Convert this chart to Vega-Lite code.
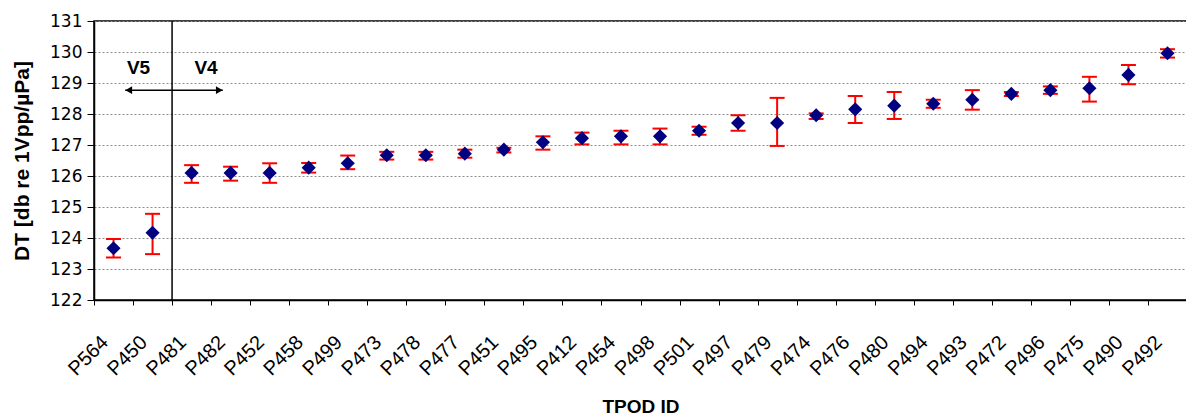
{
  "$schema": "https://vega.github.io/schema/vega-lite/v6.json",
  "width": 1093,
  "height": 279,
  "autosize": "none",
  "padding": {"left": 94, "top": 21, "right": 0, "bottom": 119},
  "config": {
    "view": {"stroke": "black", "strokeWidth": 1.5},
    "font": "Liberation Sans",
    "axis": {"labelColor": "black", "titleColor": "black", "domainColor": "black", "tickColor": "black", "domainWidth": 1.5},
    "axisY": {
      "titleFontSize": 21, "titleFontWeight": "bold", "titlePadding": 17,
      "labelFont": "DejaVu Sans", "labelFontSize": 17, "labelPadding": 5, "tickSize": 7, "labelOverlap": false,
      "grid": true, "gridColor": "#8c8c8c", "gridDash": [2, 2], "gridWidth": 1
    }
  },
  "layer": [
    {
      "data": {"values": [
        {"id": "P564", "dt": 123.67, "lo": 123.37, "hi": 123.97},
        {"id": "P450", "dt": 124.17, "lo": 123.48, "hi": 124.78},
        {"id": "P481", "dt": 126.1, "lo": 125.78, "hi": 126.35},
        {"id": "P482", "dt": 126.1, "lo": 125.85, "hi": 126.3},
        {"id": "P452", "dt": 126.1, "lo": 125.78, "hi": 126.41},
        {"id": "P458", "dt": 126.27, "lo": 126.11, "hi": 126.42},
        {"id": "P499", "dt": 126.41, "lo": 126.22, "hi": 126.66},
        {"id": "P473", "dt": 126.67, "lo": 126.53, "hi": 126.78},
        {"id": "P478", "dt": 126.67, "lo": 126.53, "hi": 126.78},
        {"id": "P477", "dt": 126.72, "lo": 126.59, "hi": 126.85},
        {"id": "P451", "dt": 126.85, "lo": 126.76, "hi": 126.91},
        {"id": "P495", "dt": 127.09, "lo": 126.85, "hi": 127.28},
        {"id": "P412", "dt": 127.22, "lo": 127.02, "hi": 127.4},
        {"id": "P454", "dt": 127.28, "lo": 127.02, "hi": 127.46},
        {"id": "P498", "dt": 127.28, "lo": 127.02, "hi": 127.53},
        {"id": "P501", "dt": 127.46, "lo": 127.33, "hi": 127.59},
        {"id": "P497", "dt": 127.71, "lo": 127.46, "hi": 127.96},
        {"id": "P479", "dt": 127.71, "lo": 126.97, "hi": 128.52},
        {"id": "P474", "dt": 127.96, "lo": 127.84, "hi": 128.02},
        {"id": "P476", "dt": 128.15, "lo": 127.71, "hi": 128.58},
        {"id": "P480", "dt": 128.27, "lo": 127.84, "hi": 128.71},
        {"id": "P494", "dt": 128.33, "lo": 128.2, "hi": 128.46},
        {"id": "P493", "dt": 128.46, "lo": 128.14, "hi": 128.77},
        {"id": "P472", "dt": 128.65, "lo": 128.58, "hi": 128.71},
        {"id": "P496", "dt": 128.77, "lo": 128.65, "hi": 128.89},
        {"id": "P475", "dt": 128.83, "lo": 128.4, "hi": 129.2},
        {"id": "P490", "dt": 129.26, "lo": 128.96, "hi": 129.58},
        {"id": "P492", "dt": 129.96, "lo": 129.82, "hi": 130.09}
      ]},
      "encoding": {
        "x": {
          "field": "id", "type": "nominal", "sort": null,
          "scale": {"paddingInner": 0, "paddingOuter": 0},
          "axis": {
            "title": "TPOD ID", "titleFontSize": 19, "titleFontWeight": "bold", "titlePadding": 18,
            "labelAngle": -45, "labelFontSize": 20, "labelAlign": "right", "labelBaseline": "middle",
            "labelPadding": 34, "labelOffset": -9,
            "tickBand": "extent", "tickSize": 5, "grid": false
          }
        }
      },
      "layer": [
        {
          "mark": {"type": "rule", "color": "#ff0000", "strokeWidth": 2},
          "encoding": {
            "y": {"field": "lo", "type": "quantitative", "scale": {"domain": [122, 131], "nice": false, "zero": false}, "axis": {"title": "DT [db re 1Vpp/µPa]", "values": [122, 123, 124, 125, 126, 127, 128, 129, 130, 131]}},
            "y2": {"field": "hi"}
          }
        },
        {
          "mark": {"type": "tick", "color": "#ff0000", "size": 15, "thickness": 2, "opacity": 1},
          "encoding": {"y": {"field": "lo", "type": "quantitative", "scale": {"domain": [122, 131], "nice": false, "zero": false}, "axis": {"title": "DT [db re 1Vpp/µPa]", "values": [122, 123, 124, 125, 126, 127, 128, 129, 130, 131]}}}
        },
        {
          "mark": {"type": "tick", "color": "#ff0000", "size": 15, "thickness": 2, "opacity": 1},
          "encoding": {"y": {"field": "hi", "type": "quantitative", "scale": {"domain": [122, 131], "nice": false, "zero": false}, "axis": {"title": "DT [db re 1Vpp/µPa]", "values": [122, 123, 124, 125, 126, 127, 128, 129, 130, 131]}}}
        },
        {
          "mark": {"type": "point", "shape": "diamond", "filled": true, "color": "#000080", "size": 200, "opacity": 1},
          "encoding": {
            "y": {"field": "dt", "type": "quantitative", "scale": {"domain": [122, 131], "nice": false, "zero": false}, "axis": {"title": "DT [db re 1Vpp/µPa]", "values": [122, 123, 124, 125, 126, 127, 128, 129, 130, 131]}}
          }
        }
      ]
    },
    {
      "data": {"values": [
        {"kind": "divider", "x": 2, "x2": null, "y": null, "label": null},
        {"kind": "arrow", "x": 0.8, "x2": 3.3, "y": 128.77, "label": null},
        {"kind": "headL", "x": 0.89, "x2": null, "y": 128.77, "label": null},
        {"kind": "headR", "x": 3.21, "x2": null, "y": 128.77, "label": null},
        {"kind": "text", "x": 1.14, "x2": null, "y": 129.5, "label": "V5"},
        {"kind": "text", "x": 2.87, "x2": null, "y": 129.5, "label": "V4"}
      ]},
      "layer": [
        {
          "transform": [{"filter": "datum.kind === 'divider'"}],
          "mark": {"type": "rule", "color": "black", "strokeWidth": 1.5},
          "encoding": {
            "x": {"field": "x", "type": "quantitative", "scale": {"domain": [0, 28], "nice": false, "zero": false}, "axis": null}
          }
        },
        {
          "transform": [{"filter": "datum.kind === 'arrow'"}],
          "mark": {"type": "rule", "color": "black", "strokeWidth": 1.5},
          "encoding": {
            "x": {"field": "x", "type": "quantitative", "scale": {"domain": [0, 28], "nice": false, "zero": false}, "axis": null},
            "x2": {"field": "x2"},
            "y": {"field": "y", "type": "quantitative", "scale": {"domain": [122, 131], "nice": false, "zero": false}, "axis": {"title": "DT [db re 1Vpp/µPa]", "values": [122, 123, 124, 125, 126, 127, 128, 129, 130, 131]}}
          }
        },
        {
          "transform": [{"filter": "datum.kind === 'headL'"}],
          "mark": {"type": "point", "shape": "triangle-left", "filled": true, "color": "black", "size": 60, "opacity": 1},
          "encoding": {
            "x": {"field": "x", "type": "quantitative", "scale": {"domain": [0, 28], "nice": false, "zero": false}, "axis": null},
            "y": {"field": "y", "type": "quantitative", "scale": {"domain": [122, 131], "nice": false, "zero": false}, "axis": {"title": "DT [db re 1Vpp/µPa]", "values": [122, 123, 124, 125, 126, 127, 128, 129, 130, 131]}}
          }
        },
        {
          "transform": [{"filter": "datum.kind === 'headR'"}],
          "mark": {"type": "point", "shape": "triangle-right", "filled": true, "color": "black", "size": 60, "opacity": 1},
          "encoding": {
            "x": {"field": "x", "type": "quantitative", "scale": {"domain": [0, 28], "nice": false, "zero": false}, "axis": null},
            "y": {"field": "y", "type": "quantitative", "scale": {"domain": [122, 131], "nice": false, "zero": false}, "axis": {"title": "DT [db re 1Vpp/µPa]", "values": [122, 123, 124, 125, 126, 127, 128, 129, 130, 131]}}
          }
        },
        {
          "transform": [{"filter": "datum.kind === 'text'"}],
          "mark": {"type": "text", "font": "Liberation Sans", "fontSize": 19, "fontWeight": "bold", "color": "black", "align": "center", "baseline": "middle"},
          "encoding": {
            "x": {"field": "x", "type": "quantitative", "scale": {"domain": [0, 28], "nice": false, "zero": false}, "axis": null},
            "y": {"field": "y", "type": "quantitative", "scale": {"domain": [122, 131], "nice": false, "zero": false}, "axis": {"title": "DT [db re 1Vpp/µPa]", "values": [122, 123, 124, 125, 126, 127, 128, 129, 130, 131]}},
            "text": {"field": "label"}
          }
        }
      ]
    }
  ],
  "resolve": {"scale": {"x": "independent"}, "axis": {"x": "independent"}}
}
